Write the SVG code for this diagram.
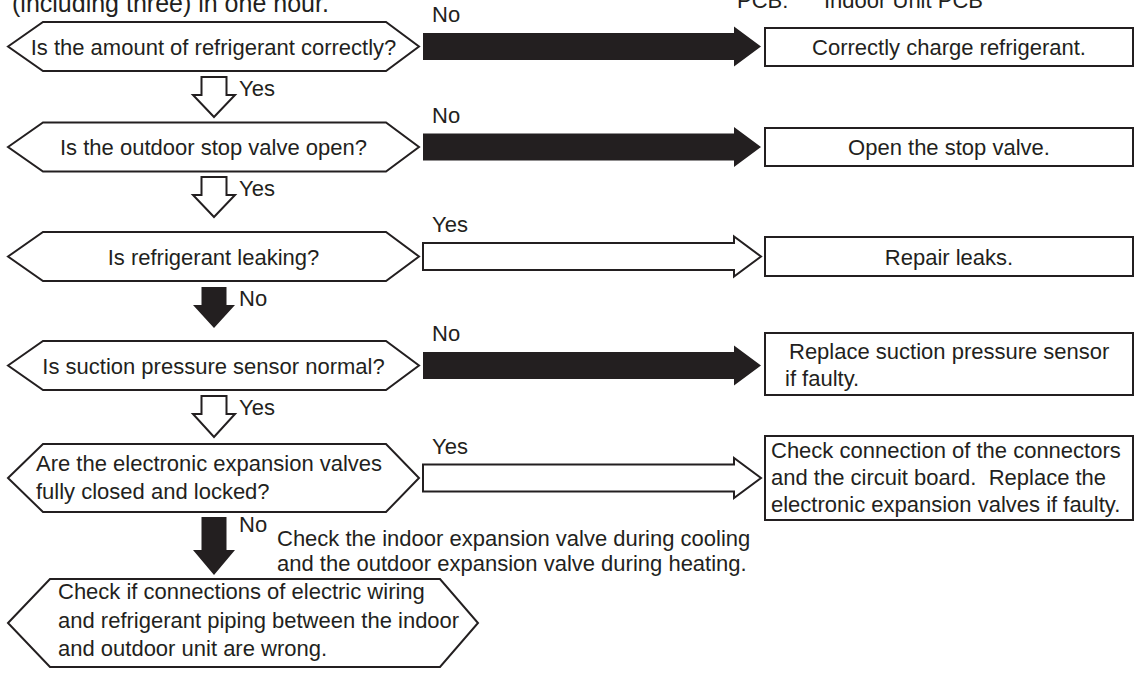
<svg xmlns="http://www.w3.org/2000/svg" width="1134" height="673" viewBox="0 0 1134 673">
<style>
text{font-family:"Liberation Sans",Arial,sans-serif;font-size:22px;fill:#231f20}
.c{text-anchor:middle}
.pre{white-space:pre}
.hdr{font-size:25px}
.hex,.box{fill:#fff;stroke:#231f20;stroke-width:2}
.blk{fill:#231f20;stroke:none}
.wht{fill:#fff;stroke:#231f20;stroke-width:2;stroke-linejoin:miter}
</style>
<rect width="1134" height="673" fill="#fff"/>
<text class="hdr" x="12" y="12">(including three) in one hour.</text>
<text x="737" y="8"><tspan>PCB:</tspan><tspan x="824">Indoor Unit PCB</tspan></text>

<g id="connectors">
  <polygon class="blk" points="423,33 734,33 734,26.5 761,46.5 734,66.5 734,60 423,60"/>
  <text x="432" y="22">No</text>
  <polygon class="blk" points="423,133.5 734,133.5 734,127 761,147 734,167 734,160.5 423,160.5"/>
  <text x="432" y="122.5">No</text>
  <polygon class="wht" points="423,243 734,243 734,236.5 761,256.5 734,276.5 734,270 423,270"/>
  <text x="432" y="232">Yes</text>
  <polygon class="blk" points="423,352 734,352 734,345.5 761,365.5 734,385.5 734,379 423,379"/>
  <text x="432" y="341">No</text>
  <polygon class="wht" points="423,464.5 734,464.5 734,458 761,478 734,498 734,491.5 423,491.5"/>
  <text x="432" y="453.5">Yes</text>

  <polygon class="wht" points="201.5,77 226.5,77 226.5,95 235,95 214,117 193,95 201.5,95"/>
  <text x="239" y="96">Yes</text>
  <polygon class="wht" points="201.5,177 226.5,177 226.5,195 235,195 214,217 193,195 201.5,195"/>
  <text x="239" y="196">Yes</text>
  <polygon class="blk" points="201.5,287 226.5,287 226.5,305 235,305 214,328 193,305 201.5,305"/>
  <text x="239" y="306">No</text>
  <polygon class="wht" points="201.5,396 226.5,396 226.5,414 235,414 214,437 193,414 201.5,414"/>
  <text x="239" y="415">Yes</text>
  <polygon class="blk" points="201.5,517 226.5,517 226.5,550 235,550 214,575 193,550 201.5,550"/>
  <text x="239" y="532">No</text>
  <text x="277" y="546">Check the indoor expansion valve during cooling</text>
  <text x="277" y="571">and the outdoor expansion valve during heating.</text>
</g>

<g id="q1">
  <polygon class="hex" points="8,46.5 43,22 386,22 419,46.5 386,71 43,71"/>
  <text class="c" x="213.5" y="54.5">Is the amount of refrigerant correctly?</text>
</g>
<g id="q2">
  <polygon class="hex" points="8,147 43,122.5 386,122.5 419,147 386,171.5 43,171.5"/>
  <text class="c" x="213.5" y="155">Is the outdoor stop valve open?</text>
</g>
<g id="q3">
  <polygon class="hex" points="8,256.5 43,232 386,232 419,256.5 386,281 43,281"/>
  <text class="c" x="213.5" y="264.5">Is refrigerant leaking?</text>
</g>
<g id="q4">
  <polygon class="hex" points="8,365.5 43,341 386,341 419,365.5 386,390 43,390"/>
  <text class="c" x="213.5" y="373.5">Is suction pressure sensor normal?</text>
</g>
<g id="q5">
  <polygon class="hex" points="8,478 43,444 386,444 419,478 386,512 43,512"/>
  <text x="36" y="471">Are the electronic expansion valves</text>
  <text x="36" y="499">fully closed and locked?</text>
</g>
<g id="q6">
  <polygon class="hex" points="8,623 50,579 440,579 478,623 440,667 50,667"/>
  <text x="58" y="599">Check if connections of electric wiring</text>
  <text x="58" y="628">and refrigerant piping between the indoor</text>
  <text x="58" y="656">and outdoor unit are wrong.</text>
</g>

<g id="a1">
  <rect class="box" x="765" y="28" width="368" height="38"/>
  <text class="c" x="949" y="55">Correctly charge refrigerant.</text>
</g>
<g id="a2">
  <rect class="box" x="765" y="128" width="368" height="38"/>
  <text class="c" x="949" y="155">Open the stop valve.</text>
</g>
<g id="a3">
  <rect class="box" x="765" y="237" width="368" height="39"/>
  <text class="c" x="949" y="264.5">Repair leaks.</text>
</g>
<g id="a4">
  <rect class="box" x="765" y="333" width="368" height="62"/>
  <text x="789" y="359">Replace suction pressure sensor</text>
  <text x="785" y="386">if faulty.</text>
</g>
<g id="a5">
  <rect class="box" x="765" y="436" width="368" height="84"/>
  <text x="771" y="458">Check connection of the connectors</text>
  <text class="pre" x="771" y="485">and the circuit board.  Replace the</text>
  <text x="771" y="512">electronic expansion valves if faulty.</text>
</g>
</svg>
